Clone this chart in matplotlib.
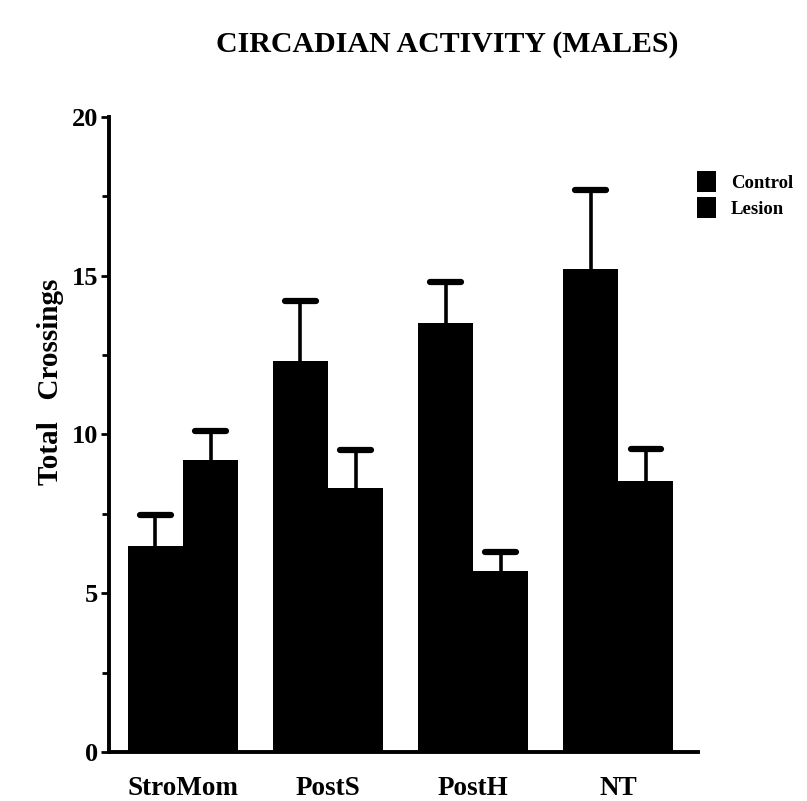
import matplotlib
matplotlib.use("Agg")
import matplotlib.pyplot as plt
import numpy as np

# group means and upper error (SEM) for total crossings
groups = ["StroMom", "PostS", "PostH", "NT"]
control = [6.5, 12.3, 13.5, 15.2]
control_err = [0.95, 1.9, 1.3, 2.5]
lesion = [9.2, 8.3, 5.7, 8.55]
lesion_err = [0.9, 1.2, 0.6, 1.0]
yticks = [0, 5, 10, 15, 20]

plt.rcParams["font.family"] = ["Liberation Serif", "DejaVu Serif"]
plt.rcParams["font.weight"] = "bold"

fig = plt.figure(figsize=(8.07, 8.01), dpi=100)
ax = fig.add_axes([109/807, 49/801, 589/807, 635/801])

x = np.arange(len(groups))
w = 0.38
b1 = ax.bar(x - w/2, control, w, color="black", label="Control")
b2 = ax.bar(x + w/2, lesion, w, color="black", label="Lesion")

# upward-only error bars with a cap on top
cap = 0.105
for xs, vals, errs in [(x - w/2, control, control_err), (x + w/2, lesion, lesion_err)]:
    tops = np.array(vals) + np.array(errs)
    ax.vlines(xs, vals, tops, color="black", lw=2.6)
    ax.hlines(tops, xs - cap, xs + cap, color="black", lw=4.5, capstyle="round")

ax.set_xlim(-0.51, 3.55)
ax.set_ylim(0, 20)
ax.set_yticks(yticks)
ax.set_yticks(np.arange(2.5, 20, 5), minor=True)
ax.set_yticklabels([str(t) for t in yticks], fontsize=19, fontweight="bold")
ax.set_xticks(x)
ax.set_xticklabels(groups, fontsize=19.5, fontweight="bold")
ax.tick_params(axis="x", length=0, pad=17)
ax.tick_params(axis="y", which="major", length=6, width=2, pad=2)
ax.tick_params(axis="y", which="minor", length=5, width=2)

for s in ["top", "right"]:
    ax.spines[s].set_visible(False)
for s in ["left", "bottom"]:
    ax.spines[s].set_linewidth(2.8)

ax.set_ylabel("Total   Crossings", fontsize=21, fontweight="bold")
ax.yaxis.set_label_coords(-0.076, 0.583)

fig.text(447/807, 1 - 44/801, "CIRCADIAN ACTIVITY (MALES)", ha="center",
         va="center", fontsize=21.5, fontweight="bold")

ax.legend(handles=[b1, b2], loc="upper left",
          bbox_to_anchor=(688/807, 1 - 162/801), bbox_transform=fig.transFigure,
          frameon=False, handlelength=1.0, handleheight=1.35,
          handletextpad=0.8, labelspacing=0.25, borderpad=0,
          prop={"weight": "bold", "size": 13.5})

fig.savefig("out.png", dpi=100)
